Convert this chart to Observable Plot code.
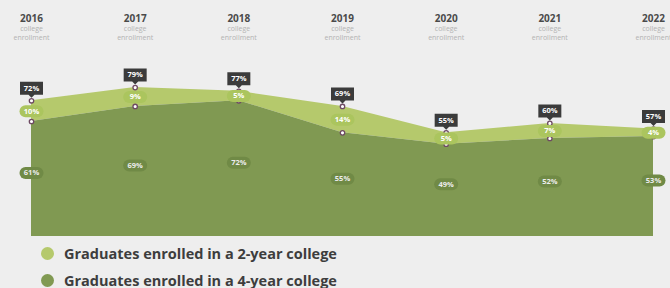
<!DOCTYPE html>
<html>
<head>
<meta charset="utf-8">
<script src="https://cdn.jsdelivr.net/npm/d3@7"></script>
<script src="https://cdn.jsdelivr.net/npm/@observablehq/plot@0.6"></script>
<style>
  html, body { margin: 0; padding: 0; background: #eeeeee; }
  body { width: 670px; height: 288px; overflow: hidden; font-family: "Open Sans", Lato, sans-serif; }
  #chart svg { display: block; background: #eeeeee; }
  .legend { position: relative; height: 48px; }
  .legend .row { position: absolute; left: 41px; display: flex; align-items: center; height: 16px; }
  .legend .sw { width: 13px; height: 13px; border-radius: 50%; margin-right: 10px; flex: none; }
  .legend .lab { font-weight: 700; font-size: 14.5px; line-height: 15px; color: #3d3d3d; white-space: nowrap; }
</style>
</head>
<body>
<div id="chart"></div>
<div class="legend">
  <div class="row" style="top:5px"><span class="sw" style="background:#b5c96c"></span><span class="lab">Graduates enrolled in a 2-year college</span></div>
  <div class="row" style="top:32px"><span class="sw" style="background:#809952"></span><span class="lab">Graduates enrolled in a 4-year college</span></div>
</div>
<script>
const years = [2016, 2017, 2018, 2019, 2020, 2021, 2022];
const fourYear = [61, 69, 72, 55, 49, 52, 53];
const twoYear = [10, 9, 5, 14, 5, 7, 4];
const total = [72, 79, 77, 69, 55, 60, 57];

const data = years.map((year, i) => ({
  year, four: fourYear[i], two: twoYear[i], total: total[i]
}));

const pill = {
  draw(ctx) {
    const w = 12, h = 6;
    ctx.moveTo(-w + h, -h);
    ctx.lineTo(w - h, -h);
    ctx.arc(w - h, 0, h, -Math.PI / 2, Math.PI / 2);
    ctx.lineTo(-w + h, h);
    ctx.arc(-w + h, 0, h, Math.PI / 2, 3 * Math.PI / 2);
    ctx.closePath();
  }
};
const box = {
  draw(ctx) {
    const w = 11.5, h = 6.5;
    ctx.moveTo(-w, -h);
    ctx.lineTo(w, -h);
    ctx.lineTo(w, h);
    ctx.lineTo(3, h);
    ctx.lineTo(0, h + 3);
    ctx.lineTo(-3, h);
    ctx.lineTo(-w, h);
    ctx.closePath();
  }
};

const chart = Plot.plot({
  width: 670,
  height: 240,
  style: { background: "#eeeeee", fontFamily: "'Open Sans', Lato, sans-serif", overflow: "visible" },
  x: { domain: [2016, 2022], range: [31, 653], axis: null },
  y: { domain: [0, 100], range: [236, 47.5], axis: null },
  marks: [
    Plot.areaY(data, { x: "year", y1: "four", y2: "total", fill: "#b5c96c" }),
    Plot.areaY(data, { x: "year", y1: 0, y2: "four", fill: "#809952" }),
    Plot.dot(data, { x: "year", y: "four", r: 2.2, fill: "white", stroke: "#6e4a63", strokeWidth: 1.3 }),
    Plot.dot(data, { x: "year", y: "total", r: 2.2, fill: "white", stroke: "#6e4a63", strokeWidth: 1.3 }),
    // 2-year pills at middle of band
    Plot.dot(data, { x: "year", y: d => (d.four + d.total) / 2, symbol: pill, fill: "#abc55e", stroke: null }),
    Plot.text(data, { x: "year", y: d => (d.four + d.total) / 2, text: d => d.two + "%", fill: "#ffffff", fontWeight: 700, fontSize: 7.5 }),
    // 4-year pills
    Plot.dot(data, { x: "year", y: d => d.four / 2, dy: -6, symbol: pill, fill: "#708a46", stroke: null }),
    Plot.text(data, { x: "year", y: d => d.four / 2, dy: -6, text: d => d.four + "%", fill: "#ececec", fontWeight: 700, fontSize: 7.5 }),
    // total boxes
    Plot.dot(data, { x: "year", y: "total", dy: -12.5, symbol: box, fill: "#3b3b3b", stroke: null }),
    Plot.text(data, { x: "year", y: "total", dy: -12.5, text: d => d.total + "%", fill: "#ffffff", fontWeight: 700, fontSize: 7.5 }),
    // top year labels
    Plot.text(data, { x: "year", frameAnchor: "top", dy: 14, text: d => String(d.year), fill: "#4a4a4a", fontWeight: 700, fontSize: 10 }),
    Plot.text(data, { x: "year", frameAnchor: "top", dy: 25.5, text: () => "college", fill: "#b3b3b3", fontSize: 7 }),
    Plot.text(data, { x: "year", frameAnchor: "top", dy: 35, text: () => "enrollment", fill: "#b3b3b3", fontSize: 7 })
  ]
});
document.getElementById("chart").append(chart);
</script>
</body>
</html>
